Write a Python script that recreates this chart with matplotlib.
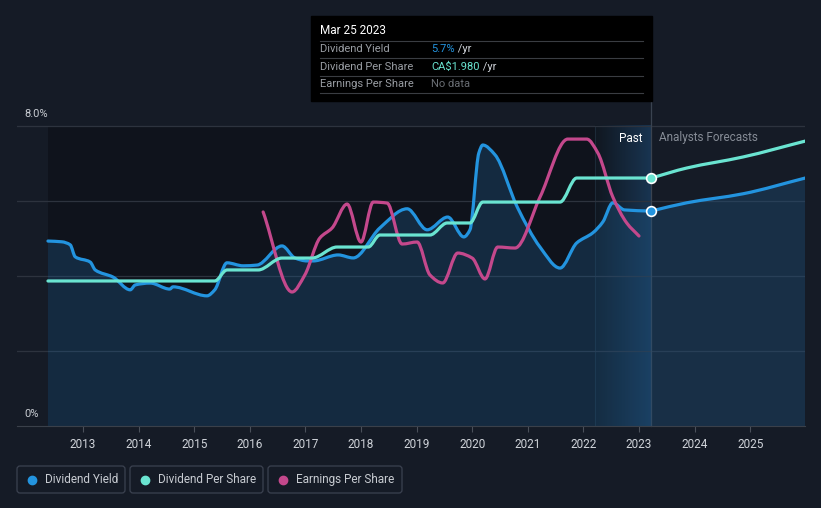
import matplotlib.pyplot as plt
import numpy as np
from matplotlib.patches import Rectangle, FancyBboxPatch, PathPatch
from matplotlib.path import Path
from matplotlib.colors import LinearSegmentedColormap

plt.rcParams['font.family'] = ['Roboto', 'DejaVu Sans']

# dividend yield (%), past and analyst forecast
dy_years = [2012.37, 2012.62, 2012.77, 2012.86, 2013.13, 2013.22, 2013.54, 2013.85,
            2013.94, 2014.21, 2014.56, 2014.62, 2015.23, 2015.37, 2015.59, 2015.88,
            2016.13, 2016.58, 2016.81, 2017.03, 2017.14, 2017.59, 2017.86, 2018.34,
            2018.83, 2019.19, 2019.56, 2019.85, 2019.96, 2020.12, 2020.19, 2020.41,
            2020.81, 2021.22, 2021.58, 2021.88, 2022.17, 2022.35, 2022.53, 2022.74,
            2023.22]
dy_values = [4.93, 4.91, 4.83, 4.51, 4.37, 4.16, 3.97, 3.63,
             3.76, 3.81, 3.65, 3.71, 3.47, 3.63, 4.35, 4.27,
             4.29, 4.80, 4.48, 4.40, 4.40, 4.56, 4.48, 5.28,
             5.79, 5.23, 5.57, 5.04, 5.23, 7.28, 7.49, 7.23,
             5.84, 4.77, 4.21, 4.88, 5.15, 5.44, 5.95, 5.76,
             5.73]
dy_fc_years = [2023.22, 2023.86, 2024.87, 2025.99]
dy_fc_values = [5.73, 5.95, 6.19, 6.61]

# dividend per share (CA$)
dps_years = [2012.37, 2015.37, 2015.59, 2016.15, 2016.58, 2017.12, 2017.57, 2018.13,
             2018.34, 2019.24, 2019.55, 2019.96, 2020.19, 2021.58, 2021.88, 2023.22]
dps_values = [1.158, 1.158, 1.246, 1.246, 1.341, 1.341, 1.429, 1.429,
              1.525, 1.525, 1.621, 1.621, 1.788, 1.788, 1.980, 1.980]
dps_fc_years = [2023.22, 2023.86, 2024.87, 2025.99]
dps_fc_values = [1.980, 2.060, 2.148, 2.275]

# earnings per share (CA$)
eps_years = [2016.24, 2016.76, 2016.99, 2017.26, 2017.48, 2017.75, 2018.00, 2018.22,
             2018.47, 2018.74, 2019.01, 2019.24, 2019.47, 2019.74, 2020.00, 2020.23,
             2020.46, 2020.77, 2021.22, 2021.72, 2022.06, 2022.26, 2022.53, 2022.78,
             2023.00]
eps_values = [1.709, 1.070, 1.206, 1.501, 1.581, 1.772, 1.469, 1.788,
              1.780, 1.453, 1.469, 1.206, 1.142, 1.381, 1.341, 1.174,
              1.429, 1.421, 1.828, 2.291, 2.291, 2.180, 1.828, 1.621,
              1.517]

year_ticks = list(range(2013, 2026))
now = 2023.22
past_start = 2022.21

bg = '#151b26'
blue = '#2394df'
teal = '#6ae4d1'
pink = '#c4488c'


def monotone_path(xs, ys, close_to=None):
    # monotone cubic (like d3.curveMonotoneX) drawn as bezier segments
    x = np.asarray(xs, float)
    y = np.asarray(ys, float)
    n = len(x)
    h = np.diff(x)
    d = np.diff(y) / h
    m = np.zeros(n)
    m[0], m[-1] = d[0], d[-1]
    for k in range(1, n - 1):
        if d[k - 1] * d[k] <= 0:
            m[k] = 0
        else:
            w1 = 2 * h[k] + h[k - 1]
            w2 = h[k] + 2 * h[k - 1]
            m[k] = (w1 + w2) / (w1 / d[k - 1] + w2 / d[k])
    verts = [(x[0], y[0])]
    codes = [Path.MOVETO]
    for k in range(n - 1):
        verts += [(x[k] + h[k] / 3, y[k] + m[k] * h[k] / 3),
                  (x[k + 1] - h[k] / 3, y[k + 1] - m[k + 1] * h[k] / 3),
                  (x[k + 1], y[k + 1])]
        codes += [Path.CURVE4] * 3
    if close_to is not None:
        verts += [(x[-1], close_to), (x[0], close_to), (x[0], y[0])]
        codes += [Path.LINETO, Path.LINETO, Path.CLOSEPOLY]
    return Path(verts, codes)


def smooth_line(a, xs, ys, color, z):
    a.add_patch(PathPatch(monotone_path(xs, ys), fc='none', ec=color, lw=2.3,
                          capstyle='round', joinstyle='round', zorder=z))


fig = plt.figure(figsize=(8.21, 5.08), dpi=100, facecolor=bg)
ax = fig.add_axes([17 / 821, 82 / 508, 788 / 821, 326 / 508])
ax.set_facecolor(bg)

# darker past region and highlight band
ax.fill_between([dy_years[0], past_start], 0, 8, color='#0d1118', alpha=0.7, lw=0, zorder=0)
cmap = LinearSegmentedColormap.from_list('band', [(0.05, 0.08, 0.11, 0.55),
                                                  (0.11, 0.28, 0.44, 0.6)])
grad = np.linspace(0, 1, 100).reshape(1, -1)
ax.imshow(grad, extent=[past_start, now, 0, 8], aspect='auto', cmap=cmap, zorder=0.5)
ax.plot([past_start, past_start], [0, 8], color='#1c2a38', lw=0.8, zorder=0.6)
ax.set_xlim(2011.813, 2025.986)
ax.set_ylim(0, 8.69)

for v in [2, 4, 6, 8]:
    ax.axhline(v, color='#2d333e', lw=0.9, zorder=1)
ax.plot([now, now], [0, 8.69], color='#3a4350', lw=0.9, zorder=1, clip_on=False)

all_dy_x = dy_years + dy_fc_years[1:]
all_dy_y = dy_values + dy_fc_values[1:]
ax.add_patch(PathPatch(monotone_path(all_dy_x, all_dy_y, close_to=0), fc='#1f5a8a',
                       alpha=0.33, lw=0, zorder=2))

smooth_line(ax, dy_years, dy_values, blue, 4)
smooth_line(ax, dy_fc_years, dy_fc_values, blue, 4)
ax.plot([now], [dy_values[-1]], 'o', ms=7, color=blue, mec='white', mew=1.2, zorder=6)

ax2 = ax.twinx()
ax2.set_ylim(0, 2.603)
smooth_line(ax2, dps_years, dps_values, teal, 4)
smooth_line(ax2, dps_fc_years, dps_fc_values, teal, 4)
smooth_line(ax2, eps_years, eps_values, pink, 3)
ax2.plot([now], [dps_values[-1]], 'o', ms=7, color=teal, mec='white', mew=1.2, zorder=6)
ax2.set_yticks([])

for a in (ax, ax2):
    for s in a.spines.values():
        s.set_visible(False)
ax.spines['bottom'].set_visible(True)
ax.spines['bottom'].set_color('#3a404a')
ax.set_yticks([])
ax.set_xticks(year_ticks)
ax.set_xticklabels([str(y) for y in year_ticks], color='#d0d4da', fontsize=8.5)
ax.tick_params(axis='x', length=4, color='#4a505a', pad=5)

# overlay in pixel coords for labels, tooltip and legend
ov = fig.add_axes([0, 0, 1, 1])
ov.set_xlim(0, 821)
ov.set_ylim(508, 0)
ov.axis('off')

ov.text(24, 114, '8.0%', color='#c8ccd2', fontsize=8, va='center')
ov.text(24, 414, '0%', color='#c8ccd2', fontsize=8, va='center')
ov.text(643, 138, 'Past', color='white', fontsize=8.5, ha='right', va='center')
ov.text(659, 138, 'Analysts Forecasts', color='#868c96', fontsize=8.5, va='center')

ov.add_patch(Rectangle((311, 16), 341, 85, color='black', zorder=5))
ov.text(320, 31, 'Mar 25 2023', color='white', fontsize=8.5, va='center', zorder=6)
rows = [('Dividend Yield', '5.7%', blue), ('Dividend Per Share', 'CA$1.980', teal),
        ('Earnings Per Share', 'No data', '#6a6e74')]
for i, (lab, val, col) in enumerate(rows):
    y = 49 + i * 17.5
    ov.plot([320, 643], [y - 8.5, y - 8.5], color='#3a3d42', lw=0.8, zorder=6)
    ov.text(320, y, lab, color='#9a9ea4', fontsize=8, va='center', zorder=6)
    t = ov.text(431, y, val, color=col, fontsize=8, va='center', zorder=6)
    if val != 'No data':
        ov.annotate(' /yr', xycoords=t, xy=(1, 0.5), va='center', color='#d0d4da',
                    fontsize=8, zorder=6)
ov.plot([320, 643], [93, 93], color='#3a3d42', lw=0.8, zorder=6)

legend = [('Dividend Yield', blue, 17, 125), ('Dividend Per Share', teal, 130, 263),
          ('Earnings Per Share', pink, 268, 402)]
for lab, col, x0, x1 in legend:
    ov.add_patch(FancyBboxPatch((x0, 466), x1 - x0, 27, boxstyle='round,pad=0,rounding_size=3',
                                fc='none', ec='#3b4250', lw=0.9))
    ov.plot([x0 + 15], [479.5], 'o', ms=6, color=col)
    ov.text(x0 + 28, 479.5, lab, color='#c8ccd2', fontsize=8.5, va='center')

fig.savefig('out.png', dpi=100, facecolor=bg)
